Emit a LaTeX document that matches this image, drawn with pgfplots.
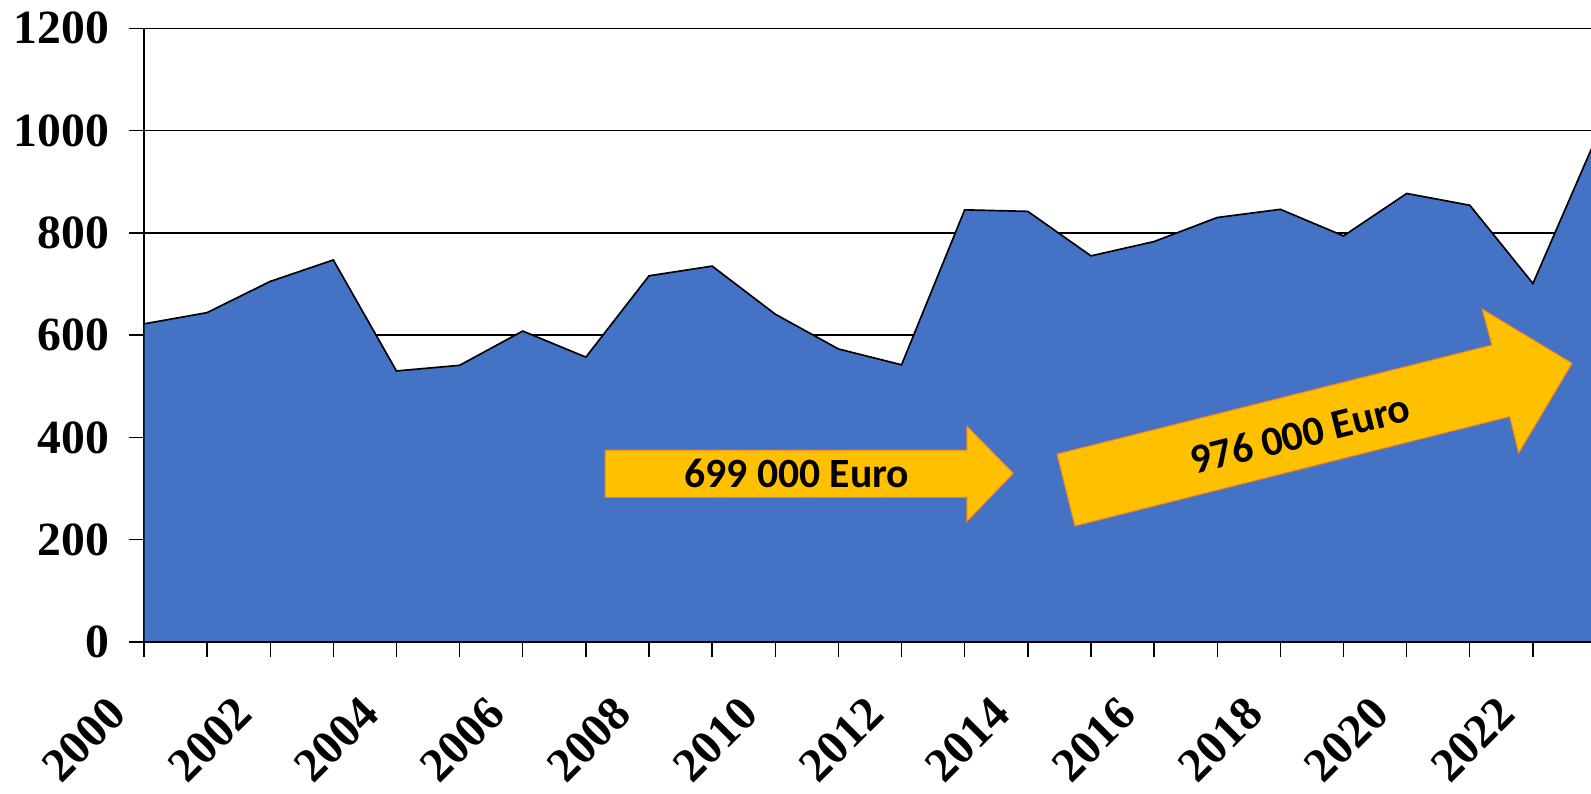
\documentclass[border=0pt]{standalone}
\usepackage{fontspec}
\setmainfont{Liberation Serif}
\newfontfamily\carlito{Carlito}
\usepackage{pgfplots}
\usepackage{pgfplotstable}
\pgfplotsset{compat=1.18}
\definecolor{areablue}{HTML}{4472C4}
\definecolor{arrowfill}{HTML}{FFC000}
\definecolor{arrowedge}{HTML}{ED7D31}
\pgfplotsset{layers/mylayers/.define layer set={axis background,axis grid,pre main,main,axis ticks,axis lines,axis tick labels,axis descriptions,axis foreground}{}}

\pgfplotstableread{
year value
2000 622
2001 644
2002 705
2003 747
2004 530
2005 541
2006 608
2007 557
2008 716
2009 735
2010 641
2011 573
2012 542
2013 845
2014 842
2015 755
2016 783
2017 830
2018 846
2019 794
2020 877
2021 854
2022 701
2023 985
}\datatable

\begin{document}
\begin{tikzpicture}
\begin{axis}[name=ax, set layers=mylayers,
  scale only axis, width=434.13pt, height=184.11pt,
  xmin=2000, xmax=2022.92, ymin=0, ymax=1200,
  axis lines=left, axis line style={-, line width=0.45pt, black},
  x axis line style={line width=0.7pt},
  ytick={0,200,...,1200},
  xtick={2000,2002,...,2022}, minor xtick={2001,2003,...,2021},
  tick align=outside, major tick length=4.4pt, minor tick length=4.4pt,
  tick style={black, line width=0.4pt},
  ymajorgrids, grid style={black, line width=0.4pt},
  ticklabel style={font=\fontsize{14.3}{16}\selectfont\bfseries},
  /pgf/number format/assume math mode=true, /pgf/number format/1000 sep={},
  yticklabel style={anchor=east, inner sep=0pt, xshift=-5.85pt},
  xticklabel style={inner sep=0pt, anchor=east, xshift=-7.8pt, yshift=-14.6pt, rotate=45},
  clip=true]
\addplot[fill=areablue, draw=black, line width=0.5pt] table[x=year,y=value]{\datatable} \closedcycle;
\filldraw[fill=arrowfill, draw=arrowedge, line width=0.3pt]
  (2007.304,375.4) -- (2013.034,375.4) -- (2013.034,422.4) -- (2013.772,329.9)
  -- (2013.034,235.2) -- (2013.034,282.9) -- (2007.304,282.9) -- cycle;
\node[font=\carlito\bfseries\fontsize{12.5}{14}\selectfont] at (2010.34,329.3) {699 000 Euro};
\filldraw[fill=arrowfill, draw=arrowedge, line width=0.3pt]
  (2014.461,367.6) -- (2021.347,580.8) -- (2021.195,651.2) -- (2022.622,545.0)
  -- (2021.773,369.0) -- (2021.631,440.6) -- (2014.744,226.8) -- cycle;
\node[font=\carlito\bfseries\fontsize{12.5}{14}\selectfont, rotate=14] at (2018.313,406.7) {976 000 Euro};
\end{axis}
\pgfresetboundingbox
\path ([xshift=-43.17pt,yshift=-45.3pt]ax.south west) rectangle ([yshift=8.49pt]ax.north east);
\end{tikzpicture}
\end{document}
